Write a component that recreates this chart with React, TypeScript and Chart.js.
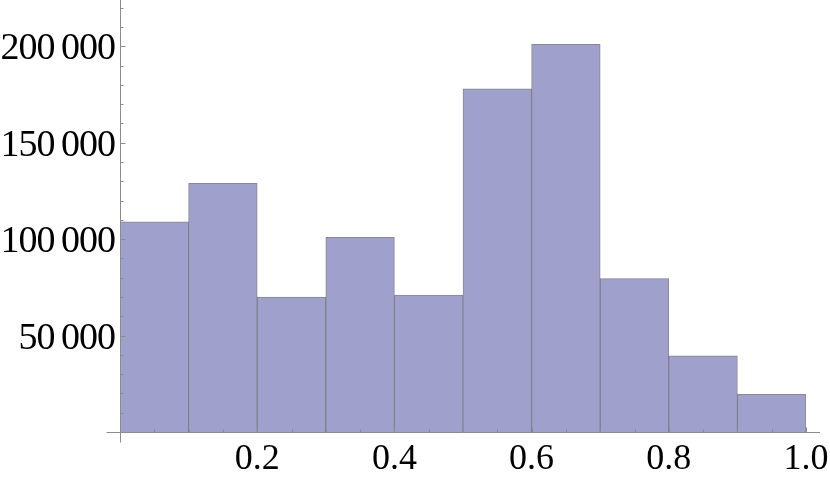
import React, { useEffect, useRef } from "react";
import { Chart, registerables } from "chart.js";

Chart.register(...registerables);

const binCenters = [0.05, 0.15, 0.25, 0.35, 0.45, 0.55, 0.65, 0.75, 0.85, 0.95];
const counts = [109000, 129000, 70000, 101000, 71000, 178000, 201000, 79500, 39500, 19500];
const xTickValues = [0.2, 0.4, 0.6, 0.8, 1.0];
const yTickValues = [50000, 100000, 150000, 200000];
const yMax = 224000;

const fmtThousands = (v: number) =>
  String(Math.round(v)).replace(/\B(?=(\d{3})+(?!\d))/g, "\u2009");

const axisColor = "#8c8c8c";
const serif = "'Liberation Serif', 'Times New Roman', serif";

const axesPlugin = {
  id: "mmaAxes",
  afterDatasetsDraw(chart: any) {
    const { ctx, chartArea } = chart;
    const xs = chart.scales.x;
    const ys = chart.scales.y;
    const left = Math.round(chartArea.left) + 0.5;
    const bottom = Math.round(ys.getPixelForValue(0)) + 0.5;
    ctx.save();
    ctx.strokeStyle = axisColor;
    ctx.lineWidth = 1;
    ctx.beginPath();
    ctx.moveTo(left, 0);
    ctx.lineTo(left, bottom + 10);
    ctx.moveTo(left - 14, bottom);
    ctx.lineTo(xs.getPixelForValue(1.0) + 14, bottom);
    for (let v = 10000; v <= yMax; v += 10000) {
      const y = Math.round(ys.getPixelForValue(v)) + 0.5;
      const len = v % 50000 === 0 ? 5 : 3;
      ctx.moveTo(left, y);
      ctx.lineTo(left + len, y);
    }
    for (let i = 1; i <= 20; i++) {
      const v = i * 0.05;
      const x = Math.round(xs.getPixelForValue(v)) + 0.5;
      const len = i % 4 === 0 ? 5 : 3;
      ctx.moveTo(x, bottom);
      ctx.lineTo(x, bottom - len);
    }
    ctx.stroke();

    ctx.fillStyle = "#000";
    ctx.textBaseline = "alphabetic";
    ctx.font = `38px ${serif}`;
    ctx.textAlign = "right";
    try { (ctx as any).letterSpacing = "-1px"; } catch (e) {}
    for (const v of yTickValues) {
      const y = ys.getPixelForValue(v);
      ctx.fillText(fmtThousands(v), chartArea.left - 5, y + 13);
    }
    try { (ctx as any).letterSpacing = "0px"; } catch (e) {}
    ctx.font = `36px ${serif}`;
    ctx.textAlign = "center";
    for (const v of xTickValues) {
      const x = xs.getPixelForValue(v);
      ctx.fillText(v.toFixed(1), x, 469);
    }
    ctx.restore();
  },
};

export default function App() {
  const ref = useRef<HTMLCanvasElement | null>(null);
  useEffect(() => {
    if (!ref.current) return;
    const chart = new Chart(ref.current, {
      type: "bar",
      data: {
        datasets: [
          {
            data: binCenters.map((x, i) => ({ x, y: counts[i] })),
            backgroundColor: "rgb(160,160,205)",
            borderColor: "rgba(95,95,110,0.75)",
            borderWidth: 1,
            barPercentage: 1,
            categoryPercentage: 1,
          },
        ],
      },
      options: {
        responsive: false,
        animation: false,
        devicePixelRatio: 1,
        layout: { padding: { left: 0, right: 24, top: 0, bottom: 0 } },
        plugins: { legend: { display: false }, tooltip: { enabled: false } },
        scales: {
          x: {
            type: "linear",
            offset: false,
            min: 0,
            max: 1,
            grid: { display: false, drawTicks: false },
            border: { display: false },
            ticks: { display: false },
            afterFit: (s: any) => {
              s.height = 46;
              s.paddingLeft = 0;
              s.paddingRight = 0;
            },
          },
          y: {
            type: "linear",
            min: 0,
            max: yMax,
            grid: { display: false, drawTicks: false },
            border: { display: false },
            ticks: { display: false },
            afterFit: (s: any) => {
              s.width = 120;
              s.paddingTop = 0;
              s.paddingBottom = 0;
            },
          },
        },
      },
      plugins: [axesPlugin],
    });
    return () => chart.destroy();
  }, []);
  return (
    <div style={{ position: "fixed", left: 0, top: 0, width: 830, height: 478, background: "#fff" }}>
      <canvas ref={ref} width={830} height={478} style={{ width: 830, height: 478 }} />
    </div>
  );
}
